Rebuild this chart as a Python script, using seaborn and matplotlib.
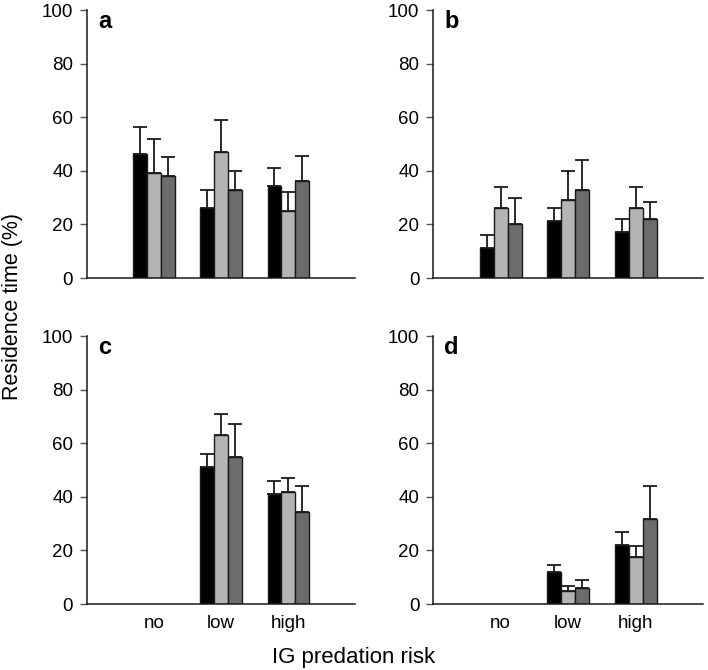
import matplotlib.pyplot as plt
import numpy as np
import pandas as pd
import seaborn as sns

# Categories
risk_levels = ["no", "low", "high"]
series = ["black", "light", "dark"]
panel_names = ["a", "b", "c", "d"]

# Means (rows: risk level, cols: series); NaN = no bar
mean_a = [[46.4, 39.2, 38.2], [26.3, 47.2, 33.0], [34.2, 25.2, 36.2]]
mean_b = [[11.2, 26.1, 20.1], [21.3, 29.2, 33.0], [17.3, 26.2, 22.2]]
mean_c = [[np.nan, np.nan, np.nan], [51.2, 63.0, 54.9], [41.0, 41.9, 34.2]]
mean_d = [[np.nan, np.nan, np.nan], [11.9, 4.8, 5.9], [21.9, 17.5, 31.8]]

# Upper error (SE)
err_a = [[9.8, 12.8, 7.1], [6.7, 11.8, 7.0], [6.8, 6.8, 9.2]]
err_b = [[4.8, 7.9, 9.9], [4.9, 10.8, 11.0], [4.8, 7.8, 6.2]]
err_c = [[np.nan, np.nan, np.nan], [4.6, 8.0, 12.1], [5.0, 5.1, 9.8]]
err_d = [[np.nan, np.nan, np.nan], [2.7, 1.9, 3.1], [4.9, 4.1, 12.2]]

means = [mean_a, mean_b, mean_c, mean_d]
errs = [err_a, err_b, err_c, err_d]

bar_colors = ["#000000", "#b4b4b4", "#6c6c6c"]

sns.set_style("white")
plt.rcParams["font.family"] = ["Liberation Sans", "DejaVu Sans"]
plt.rcParams["text.color"] = "black"
plt.rcParams["xtick.labelcolor"] = "black"
plt.rcParams["ytick.labelcolor"] = "black"

fig = plt.figure(figsize=(7.08, 6.7), dpi=100)
boxes = [
    [0.123, 0.585, 0.379, 0.400],
    [0.612, 0.585, 0.381, 0.400],
    [0.123, 0.0985, 0.379, 0.400],
    [0.612, 0.0985, 0.381, 0.400],
]

for k, name in enumerate(panel_names):
    ax = fig.add_axes(boxes[k])
    rows = []
    for i, risk in enumerate(risk_levels):
        for j, s in enumerate(series):
            rows.append({"risk": risk, "series": s,
                         "mean": means[k][i][j], "err": errs[k][i][j]})
    df = pd.DataFrame(rows)

    sns.barplot(data=df, x="risk", y="mean", hue="series",
                order=risk_levels, hue_order=series, palette=bar_colors,
                errorbar=None, width=0.62, gap=0, edgecolor="#1a1a1a",
                linewidth=1.0, saturation=1, legend=False, ax=ax)

    # upward-only error bars on top of each drawn bar
    lookup = {(r.risk, r.series): r.err for r in df.itertuples()}
    for cont, s in zip(ax.containers, series):
        for bar in cont:
            h = bar.get_height()
            if np.isnan(h):
                continue
            xc = bar.get_x() + bar.get_width() / 2
            e = lookup[(risk_levels[int(round(xc))], s)]
            ax.errorbar(xc, h, yerr=[[0], [e]], fmt="none", ecolor="#1a1a1a",
                        elinewidth=1.3, capsize=5, capthick=1.3, zorder=1)

    ax.set_xlim(-1, 3)
    ax.set_ylim(0, 100)
    ax.set_yticks(range(0, 101, 20))
    ax.set_xlabel("")
    ax.set_ylabel("")
    for sp in ["top", "right"]:
        ax.spines[sp].set_visible(False)
    for sp in ["left", "bottom"]:
        ax.spines[sp].set_color("#1a1a1a")
        ax.spines[sp].set_linewidth(1.1)
    ax.tick_params(axis="y", length=5, width=1, color="#555555",
                   labelsize=13.5, pad=5, left=True)
    ax.tick_params(axis="x", length=0, labelsize=13.5, pad=8)
    if k < 2:
        ax.set_xticklabels([])
    ax.text(0.04, 0.933, name, transform=ax.transAxes, fontsize=17,
            fontweight="bold", ha="left", va="baseline")

fig.text(0.5, 1 - 658 / 670, "IG predation risk", fontsize=16,
         ha="center", va="center")
fig.text(0.018, 1 - 307 / 670, "Residence time (%)", fontsize=15.5,
         rotation=90, ha="center", va="center")

fig.savefig("out.png", dpi=100)
